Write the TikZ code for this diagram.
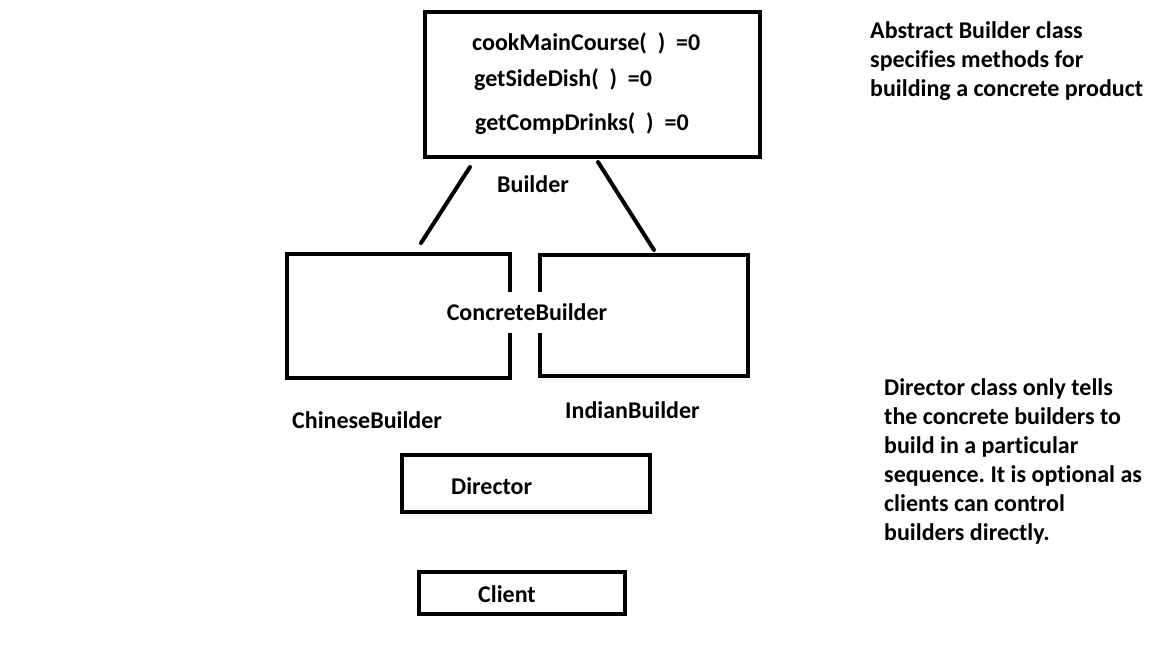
\documentclass[tikz,border=0pt]{standalone}
\usepackage{fontspec}
\setmainfont{Carlito}[Ligatures=NoCommon]
\frenchspacing
\begin{document}
\begin{tikzpicture}[x=1pt,y=-1pt,
    box/.style={draw,line width=4pt,inner sep=0pt},
    txt/.style={font=\bfseries\fontsize{24}{29}\selectfont,inner sep=0pt,anchor=base west,align=left}]
    \useasboundingbox (0,0) rectangle (1152,648);
    % boxes
    \node[box,minimum width=335pt,minimum height=145pt] (builder) at (592.5,84.5) {};
    \node[box,minimum width=223pt,minimum height=124pt] (chinese) at (398.5,316) {};
    \node[box,minimum width=208pt,minimum height=121pt] (indian) at (644,315.5) {};
    \node[box,minimum width=248pt,minimum height=57pt] (director) at (526,483.5) {};
    \node[box,minimum width=206pt,minimum height=42pt] (client) at (522,593) {};
    % texts
    \node[txt] (cook) at (472,50) {cookMainCourse(~~)~~=0};
    \node[txt] (side) at (474,86) {getSideDish(~~)~~=0};
    \node[txt] (drinks) at (475,130) {getCompDrinks(~~)~~=0};
    \node[txt] (builderlbl) at (497,192) {Builder};
    \node[txt,anchor=center,fill=white,minimum height=41pt,inner xsep=1pt] (concrete) at (527,312.5) {ConcreteBuilder};
    \node[txt] (chineselbl) at (292,428) {ChineseBuilder};
    \node[txt] (indianlbl) at (565,418) {IndianBuilder};
    \node[txt] (directorlbl) at (451,494) {Director};
    \node[txt] (clientlbl) at (478,602) {Client};
    % multi-line notes, placed by the baseline of their last line
    \node[txt] (abstract) at (870,96) {Abstract Builder class\\specifies methods for\\building a concrete product};
    \node[txt] (note) at (884,540) {Director class only tells\\the concrete builders to\\build in a particular\\sequence. It is optional as\\clients can control\\builders directly.};
    % connectors
    \coordinate (bl) at (470,167);
    \coordinate (br) at (598,162);
    \coordinate (cl) at (421,243);
    \coordinate (cr) at (654,250);
    \draw[line width=4pt,line cap=round] (bl) -- (cl);
    \draw[line width=4pt,line cap=round] (br) -- (cr);
\end{tikzpicture}
\end{document}
